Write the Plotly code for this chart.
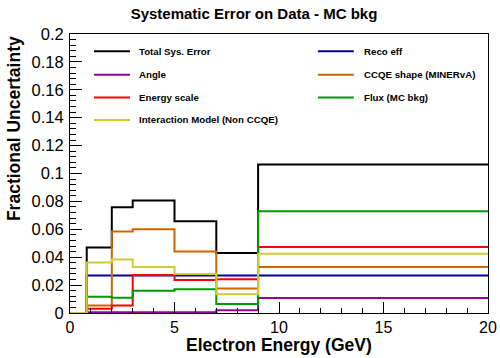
import plotly.graph_objects as go

# Bin edges (GeV)
bin_edges = [0, 0.8, 2, 3, 5, 7, 9, 20]

# Fractional uncertainty per bin
total_sys   = [0, 0.047, 0.0758, 0.0806, 0.0657, 0.043, 0.1065]
reco_eff    = [0, 0.0268, 0.0268, 0.0268, 0.0268, 0.0268, 0.0268]
angle       = [0, 0.0005, 0.0005, 0.0005, 0.0005, 0.0020, 0.0107]
ccqe_shape  = [0, 0.0053, 0.0585, 0.0600, 0.0440, 0.0175, 0.0329]
energy_scl  = [0, 0.0030, 0.0053, 0.0273, 0.0237, 0.0242, 0.0473]
flux_mcbkg  = [0, 0.0117, 0.0110, 0.0160, 0.0170, 0.0065, 0.0729]
int_model   = [0, 0.0362, 0.0384, 0.0329, 0.0280, 0.0134, 0.0424]

series_names = ["Total Sys. Error", "Reco eff", "Angle", "CCQE shape (MINERvA)",
                "Energy scale", "Flux (MC bkg)", "Interaction Model (Non CCQE)"]
series_vals = [total_sys, reco_eff, angle, ccqe_shape, energy_scl, flux_mcbkg, int_model]
series_colors = ["#000000", "#000099", "#990099", "#cc6600", "#ff0000", "#009900", "#cccc33"]

y_tickvals = [0, 0.02, 0.04, 0.06, 0.08, 0.1, 0.12, 0.14, 0.16, 0.18, 0.2]
y_ticktext = ["0", "0.02", "0.04", "0.06", "0.08", "0.1", "0.12", "0.14", "0.16", "0.18", "0.2"]
x_tickvals = [0, 5, 10, 15, 20]
x_ticktext = ["0", "5", "10", "15", "20"]

FONT = "Liberation Sans, Arial, Helvetica, sans-serif"

fig = go.Figure()
for name, vals, col in zip(series_names, series_vals, series_colors):
    fig.add_trace(go.Scatter(
        x=bin_edges, y=vals + [vals[-1]], mode="lines", line_shape="hv",
        line=dict(color=col, width=2), name=name, showlegend=False,
        hoverinfo="skip"))

# Manual two-column legend (ROOT TLegend style)
leg_cols_x = [(0.0574, 0.1435, 0.1595), (0.593, 0.679, 0.6986)]
leg_rows_y = [0.938, 0.854, 0.772, 0.692]
shapes = []
annotations = []
for i, (name, col) in enumerate(zip(series_names, series_colors)):
    r, c = divmod(i, 2)
    x0, x1, xt = leg_cols_x[c]
    yy = leg_rows_y[r]
    shapes.append(dict(type="line", xref="paper", yref="paper", x0=x0, x1=x1,
                       y0=yy, y1=yy, line=dict(color=col, width=2)))
    annotations.append(dict(xref="paper", yref="paper", x=xt, y=yy, text="<b>%s</b>" % name,
                            showarrow=False, xanchor="left", yanchor="middle",
                            font=dict(family=FONT, size=9.7, color="black")))

# Axis titles
annotations.append(dict(xref="paper", yref="paper", x=0.5, y=-0.072,
                        text="<b>Electron Energy (GeV)</b>", showarrow=False,
                        xanchor="center", yanchor="top",
                        font=dict(family=FONT, size=17.5, color="black")))
annotations.append(dict(xref="paper", yref="paper", x=-0.135, y=1.0, textangle=-90,
                        text="<b>Fractional Uncertainty</b>", showarrow=False,
                        xanchor="center", yanchor="top",
                        font=dict(family=FONT, size=17.5, color="black")))

fig.update_layout(
    width=500, height=358,
    margin=dict(l=70, r=12, t=34, b=45, autoexpand=False),
    paper_bgcolor="white", plot_bgcolor="white",
    title=dict(text="<b>Systematic Error on Data - MC bkg</b>", x=0.508, y=0.962,
               xanchor="center", yanchor="middle", xref="container", yref="container",
               font=dict(family=FONT, size=15, color="black")),
    shapes=shapes, annotations=annotations, showlegend=False,
)
fig.update_xaxes(range=[0, 20], tickvals=x_tickvals, ticktext=x_ticktext,
                 ticks="inside", ticklen=11, tickwidth=1, tickcolor="black",
                 minor=dict(dtick=1, tick0=0, ticks="inside", ticklen=5, tickcolor="black"),
                 showline=True, linecolor="black", linewidth=1, mirror=True,
                 showgrid=False, zeroline=False, automargin=False,
                 tickfont=dict(family=FONT, size=16, color="black"))
fig.update_yaxes(range=[0, 0.2], tickvals=y_tickvals, ticktext=y_ticktext,
                 ticks="inside", ticklen=12, tickwidth=1, tickcolor="black",
                 minor=dict(dtick=0.004, tick0=0, ticks="inside", ticklen=6, tickcolor="black"),
                 showline=True, linecolor="black", linewidth=1, mirror=True,
                 showgrid=False, zeroline=False, ticklabelstandoff=2, automargin=False,
                 tickfont=dict(family=FONT, size=16.5, color="black"))

fig.write_html("out.html")
